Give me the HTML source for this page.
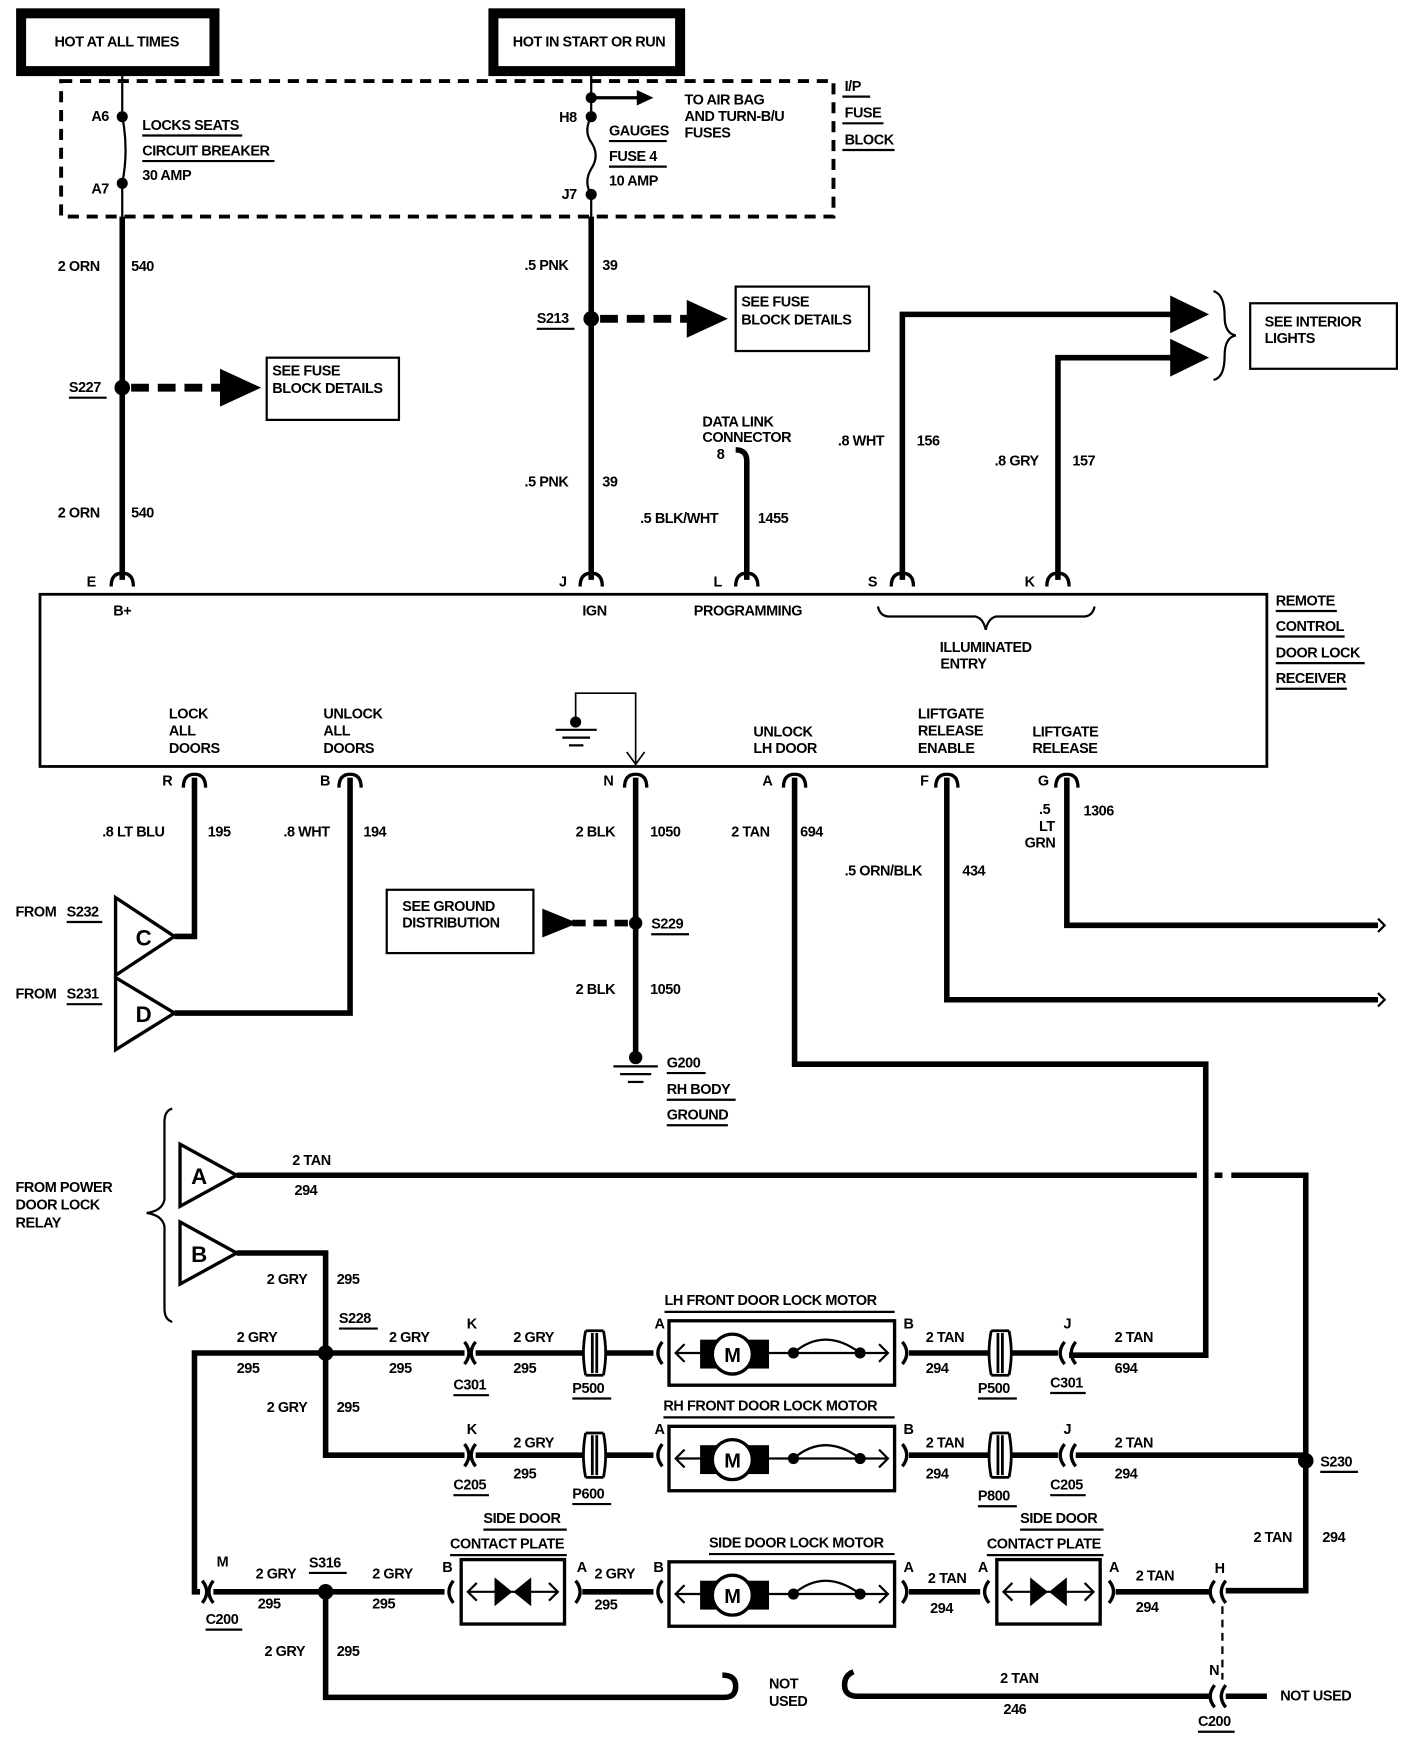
<!DOCTYPE html>
<html><head><meta charset="utf-8"><style>
html,body{margin:0;padding:0;background:#fff;}
svg{display:block;}
text{font-family:"Liberation Sans",sans-serif;font-weight:bold;font-size:13px;fill:#000;letter-spacing:-0.4px;}
</style></head><body>
<svg width="1408" height="1744" viewBox="0 0 1267 1570" preserveAspectRatio="none" xmlns="http://www.w3.org/2000/svg">
<defs>
<g id="motor">
<rect x="0" y="0" width="203" height="58" fill="none" stroke="#000" stroke-width="3"/>
<line x1="6" y1="29" x2="197" y2="29" stroke="#000" stroke-width="2"/>
<path d="M14 21 L6 29 L14 37 M189 21 L197 29 L189 37" fill="none" stroke="#000" stroke-width="2"/>
<rect x="28" y="17" width="62" height="26" fill="#000"/>
<circle cx="57" cy="30" r="18" fill="#fff" stroke="#000" stroke-width="3"/>
<path d="M112 29 Q140 5 172 29" fill="none" stroke="#000" stroke-width="2"/>
<circle cx="112" cy="29" r="5"/><circle cx="172" cy="29" r="5"/>
</g>
<g id="plate">
<rect x="0" y="0" width="93" height="58" fill="none" stroke="#000" stroke-width="3"/>
<line x1="6" y1="29" x2="87" y2="29" stroke="#000" stroke-width="2"/>
<path d="M14 21 L6 29 L14 37 M79 21 L87 29 L79 37" fill="none" stroke="#000" stroke-width="2"/>
<polygon points="30,16 30,42 46,29"/><polygon points="63,16 63,42 47,29"/>
</g>
<g id="pin"><path d="M-10 12 Q-10 0 0 0 Q10 0 10 12" fill="none" stroke="#000" stroke-width="3"/></g>
<g id="p5"><path d="M-8 0 Q-12 20 -8 40 M8 0 Q12 20 8 40 M-8 0 L8 0 M-8 40 L8 40 M-2 2 L-2 38 M2 2 L2 38" fill="none" stroke="#000" stroke-width="2.5"/></g>
</defs>

<rect x="19" y="12" width="174" height="52" fill="none" stroke="#000" stroke-width="9"/>
<text x="105" y="42" text-anchor="middle">HOT AT ALL TIMES</text>
<rect x="444" y="12" width="168" height="52" fill="none" stroke="#000" stroke-width="9"/>
<text x="530" y="42" text-anchor="middle">HOT IN START OR RUN</text>

<rect x="55" y="73" width="695" height="122" fill="none" stroke="#000" stroke-width="3.5" stroke-dasharray="10 7"/>
<line x1="110" y1="68" x2="110" y2="100" stroke="#000" stroke-width="2"/>
<path d="M110 105 Q116 135 110 165" fill="none" stroke="#000" stroke-width="2"/>
<line x1="110" y1="165" x2="110" y2="200" stroke="#000" stroke-width="2"/>
<circle cx="110" cy="105" r="5"/><circle cx="110" cy="165" r="5"/>
<text x="98" y="109" text-anchor="end">A6</text><text x="98" y="174" text-anchor="end">A7</text>
<text x="128" y="117">LOCKS SEATS</text><line x1="128" y1="122" x2="218" y2="122" stroke="#000" stroke-width="2"/>
<text x="128" y="140">CIRCUIT BREAKER</text><line x1="128" y1="145" x2="247" y2="145" stroke="#000" stroke-width="2"/>
<text x="128" y="162">30 AMP</text>

<line x1="532" y1="68" x2="532" y2="105" stroke="#000" stroke-width="2"/>
<path d="M532 105 Q525 118 532 128 Q540 140 532 152 Q525 164 532 175" fill="none" stroke="#000" stroke-width="2"/>
<line x1="532" y1="175" x2="532" y2="200" stroke="#000" stroke-width="2"/>
<circle cx="532" cy="88" r="5"/><circle cx="532" cy="105" r="5"/><circle cx="532" cy="175" r="5"/>
<line x1="532" y1="88" x2="575" y2="88" stroke="#000" stroke-width="3"/><polygon points="573,81 588,88 573,95"/>
<text x="519" y="110" text-anchor="end">H8</text><text x="519" y="179" text-anchor="end">J7</text>
<text x="548" y="122">GAUGES</text><line x1="548" y1="127" x2="600" y2="127" stroke="#000" stroke-width="2"/>
<text x="548" y="145">FUSE 4</text><line x1="548" y1="150" x2="600" y2="150" stroke="#000" stroke-width="2"/>
<text x="548" y="167">10 AMP</text>
<text x="616" y="94">TO AIR BAG</text><text x="616" y="109">AND TURN-B/U</text><text x="616" y="124">FUSES</text>
<text x="760" y="82">I/P</text><line x1="758" y1="87" x2="783" y2="87" stroke="#000" stroke-width="2"/>
<text x="760" y="106">FUSE</text><line x1="758" y1="111" x2="795" y2="111" stroke="#000" stroke-width="2"/>
<text x="760" y="130">BLOCK</text><line x1="758" y1="135" x2="805" y2="135" stroke="#000" stroke-width="2"/>

<line x1="110" y1="195" x2="110" y2="522" stroke="#000" stroke-width="5"/>
<text x="52" y="244">2 ORN</text><text x="118" y="244">540</text>
<circle cx="110" cy="349" r="7"/>
<line x1="118" y1="349" x2="200" y2="349" stroke="#000" stroke-width="7" stroke-dasharray="16 8"/>
<polygon points="198,332 235,349 198,366"/>
<text x="62" y="353">S227</text><line x1="62" y1="358" x2="96" y2="358" stroke="#000" stroke-width="2"/>
<rect x="240" y="322" width="119" height="56" fill="none" stroke="#000" stroke-width="2"/>
<text x="245" y="338">SEE FUSE</text><text x="245" y="354">BLOCK DETAILS</text>
<text x="52" y="466">2 ORN</text><text x="118" y="466">540</text>

<line x1="532" y1="195" x2="532" y2="522" stroke="#000" stroke-width="5"/>
<text x="472" y="243">.5 PNK</text><text x="542" y="243">39</text>
<circle cx="532" cy="287" r="7"/>
<line x1="540" y1="287" x2="620" y2="287" stroke="#000" stroke-width="7" stroke-dasharray="16 8"/>
<polygon points="618,270 655,287 618,304"/>
<text x="483" y="291">S213</text><line x1="483" y1="296" x2="517" y2="296" stroke="#000" stroke-width="2"/>
<rect x="662" y="258" width="120" height="58" fill="none" stroke="#000" stroke-width="2"/>
<text x="667" y="276">SEE FUSE</text><text x="667" y="292">BLOCK DETAILS</text>
<text x="472" y="438">.5 PNK</text><text x="542" y="438">39</text>

<path d="M672 522 L672 415 Q672 405 662 405" fill="none" stroke="#000" stroke-width="5"/>
<text x="632" y="384">DATA LINK</text><text x="632" y="398">CONNECTOR</text><text x="645" y="413">8</text>
<text x="576" y="471">.5 BLK/WHT</text><text x="682" y="471">1455</text>

<path d="M812 522 L812 283 L1058 283" fill="none" stroke="#000" stroke-width="5"/>
<polygon points="1053,266 1088,283 1053,300"/>
<path d="M952 522 L952 322 L1058 322" fill="none" stroke="#000" stroke-width="5"/>
<polygon points="1053,305 1088,322 1053,339"/>
<text x="754" y="401">.8 WHT</text><text x="825" y="401">156</text>
<text x="895" y="419">.8 GRY</text><text x="965" y="419">157</text>
<path d="M1092 262 Q1102 265 1102 285 Q1102 300 1112 302 Q1102 304 1102 320 Q1102 340 1092 342" fill="none" stroke="#000" stroke-width="2"/>
<rect x="1125" y="273" width="132" height="59" fill="none" stroke="#000" stroke-width="2"/>
<text x="1138" y="294">SEE INTERIOR</text><text x="1138" y="309">LIGHTS</text>

<rect x="36" y="535" width="1104" height="155" fill="none" stroke="#000" stroke-width="2.5"/>
<use href="#pin" x="110" y="516"/><use href="#pin" x="532" y="516"/><use href="#pin" x="672" y="516"/><use href="#pin" x="812" y="516"/><use href="#pin" x="952" y="516"/>
<text x="78" y="528">E</text><text x="503" y="528">J</text><text x="642" y="528">L</text><text x="781" y="528">S</text><text x="922" y="528">K</text>
<text x="110" y="554" text-anchor="middle">B+</text><text x="535" y="554" text-anchor="middle">IGN</text><text x="673" y="554" text-anchor="middle">PROGRAMMING</text>
<path d="M790 546 Q792 555 800 555 L878 555 Q885 557 887 567 Q889 557 896 555 L975 555 Q983 555 985 546" fill="none" stroke="#000" stroke-width="2"/>
<text x="887" y="587" text-anchor="middle">ILLUMINATED</text><text x="867" y="602" text-anchor="middle">ENTRY</text>
<text x="1148" y="545">REMOTE</text><line x1="1148" y1="550" x2="1203" y2="550" stroke="#000" stroke-width="2"/>
<text x="1148" y="568">CONTROL</text><line x1="1148" y1="573" x2="1210" y2="573" stroke="#000" stroke-width="2"/>
<text x="1148" y="592">DOOR LOCK</text><line x1="1148" y1="597" x2="1228" y2="597" stroke="#000" stroke-width="2"/>
<text x="1148" y="615">RECEIVER</text><line x1="1148" y1="620" x2="1212" y2="620" stroke="#000" stroke-width="2"/>

<text x="152" y="647">LOCK</text><text x="152" y="662">ALL</text><text x="152" y="678">DOORS</text>
<text x="291" y="647">UNLOCK</text><text x="291" y="662">ALL</text><text x="291" y="678">DOORS</text>
<path d="M518 650 L518 624 L572 624 L572 690" fill="none" stroke="#000" stroke-width="1.5"/>
<path d="M564 677 L572 688 L580 677" fill="none" stroke="#000" stroke-width="1.5"/>
<circle cx="518" cy="650" r="5"/>
<line x1="500" y1="657" x2="537" y2="657" stroke="#000" stroke-width="2"/><line x1="506" y1="664" x2="531" y2="664" stroke="#000" stroke-width="2"/><line x1="512" y1="671" x2="525" y2="671" stroke="#000" stroke-width="2"/>
<text x="678" y="663">UNLOCK</text><text x="678" y="678">LH DOOR</text>
<text x="826" y="647">LIFTGATE</text><text x="826" y="662">RELEASE</text><text x="826" y="678">ENABLE</text>
<text x="929" y="663">LIFTGATE</text><text x="929" y="678">RELEASE</text>

<use href="#pin" x="175" y="697"/><use href="#pin" x="315" y="697"/><use href="#pin" x="572" y="697"/><use href="#pin" x="715" y="697"/><use href="#pin" x="852" y="697"/><use href="#pin" x="960" y="697"/>
<text x="146" y="707">R</text><text x="288" y="707">B</text><text x="543" y="707">N</text><text x="686" y="707">A</text><text x="828" y="707">F</text><text x="934" y="707">G</text>

<path d="M175 700 L175 843 L157 843" fill="none" stroke="#000" stroke-width="5"/>
<text x="92" y="753">.8 LT BLU</text><text x="187" y="753">195</text>
<path d="M315 700 L315 912 L157 912" fill="none" stroke="#000" stroke-width="5"/>
<text x="255" y="753">.8 WHT</text><text x="327" y="753">194</text>
<polygon points="104,808 104,878 157,843" fill="#fff" stroke="#000" stroke-width="3"/>
<text x="122" y="851" style="font-size:20px">C</text>
<polygon points="104,880 104,945 157,912" fill="#fff" stroke="#000" stroke-width="3"/>
<text x="122" y="920" style="font-size:20px">D</text>
<text x="14" y="825">FROM</text><text x="60" y="825">S232</text><line x1="60" y1="830" x2="92" y2="830" stroke="#000" stroke-width="2"/>
<text x="14" y="899">FROM</text><text x="60" y="899">S231</text><line x1="60" y1="904" x2="92" y2="904" stroke="#000" stroke-width="2"/>

<line x1="572" y1="700" x2="572" y2="952" stroke="#000" stroke-width="5"/>
<text x="518" y="753">2 BLK</text><text x="585" y="753">1050</text>
<circle cx="572" cy="831" r="6"/>
<line x1="565" y1="831" x2="515" y2="831" stroke="#000" stroke-width="6" stroke-dasharray="12 7"/>
<polygon points="520,818 488,831 520,844" transform="rotate(180 504 831)"/>
<text x="586" y="836">S229</text><line x1="586" y1="841" x2="620" y2="841" stroke="#000" stroke-width="2"/>
<rect x="348" y="801" width="132" height="57" fill="none" stroke="#000" stroke-width="2"/>
<text x="362" y="820">SEE GROUND</text><text x="362" y="835">DISTRIBUTION</text>
<text x="518" y="895">2 BLK</text><text x="585" y="895">1050</text>
<circle cx="572" cy="952" r="6"/>
<line x1="552" y1="960" x2="592" y2="960" stroke="#000" stroke-width="2"/><line x1="558" y1="967" x2="586" y2="967" stroke="#000" stroke-width="2"/><line x1="565" y1="974" x2="579" y2="974" stroke="#000" stroke-width="2"/>
<text x="600" y="961">G200</text><line x1="600" y1="966" x2="635" y2="966" stroke="#000" stroke-width="2"/>
<text x="600" y="985">RH BODY</text><line x1="600" y1="990" x2="662" y2="990" stroke="#000" stroke-width="2"/>
<text x="600" y="1008">GROUND</text><line x1="600" y1="1013" x2="655" y2="1013" stroke="#000" stroke-width="2"/>

<path d="M715 700 L715 958 L1085 958 L1085 1220 L962 1220" fill="none" stroke="#000" stroke-width="5"/>
<text x="658" y="753">2 TAN</text><text x="720" y="753">694</text>
<path d="M852 700 L852 900 L1240 900" fill="none" stroke="#000" stroke-width="5"/>
<path d="M1240 894 L1246 900 L1240 906" fill="none" stroke="#000" stroke-width="2"/>
<text x="760" y="788">.5 ORN/BLK</text><text x="866" y="788">434</text>
<path d="M960 700 L960 833 L1240 833" fill="none" stroke="#000" stroke-width="5"/>
<path d="M1240 827 L1246 833 L1240 839" fill="none" stroke="#000" stroke-width="2"/>
<text x="935" y="733">.5</text><text x="935" y="748">LT</text><text x="922" y="763">GRN</text><text x="975" y="734">1306</text>

<path d="M155 998 Q148 1000 148 1010 L148 1080 Q146 1090 132 1092 Q146 1094 148 1104 L148 1178 Q148 1188 155 1190" fill="none" stroke="#000" stroke-width="2"/>
<text x="14" y="1073">FROM POWER</text><text x="14" y="1089">DOOR LOCK</text><text x="14" y="1105">RELAY</text>
<polygon points="162,1030 162,1086 213,1058" fill="#fff" stroke="#000" stroke-width="3"/>
<text x="172" y="1066" style="font-size:20px">A</text>
<polygon points="162,1100 162,1156 213,1128" fill="#fff" stroke="#000" stroke-width="3"/>
<text x="172" y="1136" style="font-size:20px">B</text>
<line x1="213" y1="1058" x2="1077" y2="1058" stroke="#000" stroke-width="5"/>
<line x1="1093" y1="1058" x2="1100" y2="1058" stroke="#000" stroke-width="5"/>
<path d="M1108 1058 L1175 1058 L1175 1432 L1103 1432" fill="none" stroke="#000" stroke-width="5"/>
<text x="263" y="1049">2 TAN</text><text x="265" y="1076">294</text>
<path d="M213 1128 L293 1128 L293 1310 L418 1310" fill="none" stroke="#000" stroke-width="5"/>
<text x="240" y="1156">2 GRY</text><text x="303" y="1156">295</text>
<text x="305" y="1191">S228</text><line x1="305" y1="1196" x2="340" y2="1196" stroke="#000" stroke-width="2"/>

<path d="M418 1218 L175 1218 L175 1433 L180 1433" fill="none" stroke="#000" stroke-width="5"/>
<circle cx="293" cy="1218" r="7"/>
<text x="213" y="1208">2 GRY</text><text x="213" y="1236">295</text>
<text x="350" y="1208">2 GRY</text><text x="350" y="1236">295</text>
<path d="M418 1208 Q426 1218 418 1228 M428 1208 Q420 1218 428 1228" fill="none" stroke="#000" stroke-width="3"/>
<text x="420" y="1196">K</text><text x="408" y="1251">C301</text><line x1="408" y1="1256" x2="440" y2="1256" stroke="#000" stroke-width="2"/>
<line x1="428" y1="1218" x2="525" y2="1218" stroke="#000" stroke-width="5"/>
<text x="462" y="1208">2 GRY</text><text x="462" y="1236">295</text>
<use href="#p5" x="535" y="1198"/><text x="515" y="1254">P500</text><line x1="515" y1="1259" x2="550" y2="1259" stroke="#000" stroke-width="2"/>
<line x1="545" y1="1218" x2="588" y2="1218" stroke="#000" stroke-width="5"/>
<path d="M596 1208 Q588 1218 596 1228" fill="none" stroke="#000" stroke-width="3"/>
<text x="589" y="1196">A</text>
<text x="598" y="1175">LH FRONT DOOR LOCK MOTOR</text><line x1="598" y1="1181" x2="805" y2="1181" stroke="#000" stroke-width="2"/>
<use href="#motor" x="602" y="1189"/>
<text x="659" y="1226" text-anchor="middle" style="font-size:18px">M</text>
<text x="813" y="1196">B</text>
<path d="M812 1208 Q820 1218 812 1228" fill="none" stroke="#000" stroke-width="3"/>
<line x1="818" y1="1218" x2="890" y2="1218" stroke="#000" stroke-width="5"/>
<text x="833" y="1208">2 TAN</text><text x="833" y="1236">294</text>
<use href="#p5" x="900" y="1198"/><text x="880" y="1254">P500</text><line x1="880" y1="1259" x2="915" y2="1259" stroke="#000" stroke-width="2"/>
<line x1="910" y1="1218" x2="952" y2="1218" stroke="#000" stroke-width="5"/>
<path d="M958 1208 Q950 1218 958 1228 M968 1208 Q960 1218 968 1228" fill="none" stroke="#000" stroke-width="3"/>
<text x="957" y="1196">J</text><text x="945" y="1249">C301</text><line x1="945" y1="1254" x2="977" y2="1254" stroke="#000" stroke-width="2"/>
<text x="1003" y="1208">2 TAN</text><text x="1003" y="1236">694</text>

<text x="240" y="1271">2 GRY</text><text x="303" y="1271">295</text>
<path d="M418 1300 Q426 1310 418 1320 M428 1300 Q420 1310 428 1320" fill="none" stroke="#000" stroke-width="3"/>
<text x="420" y="1291">K</text><text x="408" y="1341">C205</text><line x1="408" y1="1346" x2="440" y2="1346" stroke="#000" stroke-width="2"/>
<line x1="428" y1="1310" x2="525" y2="1310" stroke="#000" stroke-width="5"/>
<text x="462" y="1303">2 GRY</text><text x="462" y="1331">295</text>
<use href="#p5" x="535" y="1290"/><text x="515" y="1349">P600</text><line x1="515" y1="1354" x2="550" y2="1354" stroke="#000" stroke-width="2"/>
<line x1="545" y1="1310" x2="588" y2="1310" stroke="#000" stroke-width="5"/>
<path d="M596 1300 Q588 1310 596 1320" fill="none" stroke="#000" stroke-width="3"/>
<text x="589" y="1291">A</text>
<text x="597" y="1270">RH FRONT DOOR LOCK MOTOR</text><line x1="597" y1="1276" x2="805" y2="1276" stroke="#000" stroke-width="2"/>
<use href="#motor" x="602" y="1284"/>
<text x="659" y="1321" text-anchor="middle" style="font-size:18px">M</text>
<text x="813" y="1291">B</text>
<path d="M812 1300 Q820 1310 812 1320" fill="none" stroke="#000" stroke-width="3"/>
<line x1="818" y1="1310" x2="890" y2="1310" stroke="#000" stroke-width="5"/>
<text x="833" y="1303">2 TAN</text><text x="833" y="1331">294</text>
<use href="#p5" x="900" y="1290"/><text x="880" y="1351">P800</text><line x1="880" y1="1356" x2="915" y2="1356" stroke="#000" stroke-width="2"/>
<line x1="910" y1="1310" x2="952" y2="1310" stroke="#000" stroke-width="5"/>
<path d="M958 1300 Q950 1310 958 1320 M968 1300 Q960 1310 968 1320" fill="none" stroke="#000" stroke-width="3"/>
<line x1="968" y1="1310" x2="1175" y2="1310" stroke="#000" stroke-width="5"/>
<text x="957" y="1291">J</text><text x="945" y="1341">C205</text><line x1="945" y1="1346" x2="977" y2="1346" stroke="#000" stroke-width="2"/>
<text x="1003" y="1303">2 TAN</text><text x="1003" y="1331">294</text>
<circle cx="1175" cy="1315" r="7"/>
<text x="1188" y="1320">S230</text><line x1="1188" y1="1325" x2="1222" y2="1325" stroke="#000" stroke-width="2"/>
<text x="1128" y="1388">2 TAN</text><text x="1190" y="1388">294</text>

<path d="M182 1423 Q190 1433 182 1443 M192 1423 Q184 1433 192 1443" fill="none" stroke="#000" stroke-width="3"/>
<text x="195" y="1410">M</text><text x="185" y="1462">C200</text><line x1="185" y1="1467" x2="218" y2="1467" stroke="#000" stroke-width="2"/>
<line x1="192" y1="1433" x2="400" y2="1433" stroke="#000" stroke-width="5"/>
<text x="230" y="1421">2 GRY</text><text x="232" y="1448">295</text>
<text x="278" y="1411">S316</text><line x1="278" y1="1416" x2="312" y2="1416" stroke="#000" stroke-width="2"/>
<circle cx="293" cy="1433" r="7"/>
<text x="335" y="1421">2 GRY</text><text x="335" y="1448">295</text>
<path d="M408 1423 Q400 1433 408 1443" fill="none" stroke="#000" stroke-width="3"/>
<text x="398" y="1415">B</text>
<use href="#plate" x="415" y="1404"/>
<text x="435" y="1371">SIDE DOOR</text><line x1="435" y1="1377" x2="510" y2="1377" stroke="#000" stroke-width="2"/>
<text x="405" y="1394">CONTACT PLATE</text><line x1="405" y1="1400" x2="510" y2="1400" stroke="#000" stroke-width="2"/>
<text x="519" y="1415">A</text>
<path d="M518 1423 Q526 1433 518 1443" fill="none" stroke="#000" stroke-width="3"/>
<line x1="524" y1="1433" x2="588" y2="1433" stroke="#000" stroke-width="5"/>
<text x="535" y="1421">2 GRY</text><text x="535" y="1449">295</text>
<path d="M596 1423 Q588 1433 596 1443" fill="none" stroke="#000" stroke-width="3"/>
<text x="588" y="1415">B</text>
<text x="638" y="1393">SIDE DOOR LOCK MOTOR</text><line x1="638" y1="1399" x2="805" y2="1399" stroke="#000" stroke-width="2"/>
<use href="#motor" x="602" y="1406"/>
<text x="659" y="1443" text-anchor="middle" style="font-size:18px">M</text>
<text x="813" y="1415">A</text>
<path d="M812 1423 Q820 1433 812 1443" fill="none" stroke="#000" stroke-width="3"/>
<line x1="818" y1="1433" x2="882" y2="1433" stroke="#000" stroke-width="5"/>
<text x="835" y="1425">2 TAN</text><text x="837" y="1452">294</text>
<path d="M890 1423 Q882 1433 890 1443" fill="none" stroke="#000" stroke-width="3"/>
<text x="880" y="1415">A</text>
<use href="#plate" x="897" y="1404"/>
<text x="918" y="1371">SIDE DOOR</text><line x1="918" y1="1377" x2="993" y2="1377" stroke="#000" stroke-width="2"/>
<text x="888" y="1394">CONTACT PLATE</text><line x1="888" y1="1400" x2="993" y2="1400" stroke="#000" stroke-width="2"/>
<text x="998" y="1415">A</text>
<path d="M998 1423 Q1006 1433 998 1443" fill="none" stroke="#000" stroke-width="3"/>
<line x1="1004" y1="1433" x2="1088" y2="1433" stroke="#000" stroke-width="5"/>
<text x="1022" y="1423">2 TAN</text><text x="1022" y="1451">294</text>
<path d="M1093 1423 Q1085 1433 1093 1443 M1103 1423 Q1095 1433 1103 1443" fill="none" stroke="#000" stroke-width="3"/>
<text x="1093" y="1416">H</text>
<line x1="1100" y1="1446" x2="1100" y2="1512" stroke="#000" stroke-width="2" stroke-dasharray="7 5"/>
<text x="1088" y="1508">N</text>
<path d="M1093 1517 Q1085 1527 1093 1537 M1103 1517 Q1095 1527 1103 1537" fill="none" stroke="#000" stroke-width="3"/>
<line x1="1103" y1="1527" x2="1140" y2="1527" stroke="#000" stroke-width="5"/>
<text x="1152" y="1531">NOT USED</text>
<text x="1078" y="1554">C200</text><line x1="1078" y1="1559" x2="1111" y2="1559" stroke="#000" stroke-width="2"/>

<path d="M293 1433 L293 1528 L652 1528 Q662 1528 662 1518 Q662 1508 650 1508" fill="none" stroke="#000" stroke-width="5"/>
<text x="238" y="1491">2 GRY</text><text x="303" y="1491">295</text>
<text x="692" y="1520">NOT</text><text x="692" y="1536">USED</text>
<path d="M1088 1527 L772 1527 Q760 1527 760 1517 Q760 1508 768 1505" fill="none" stroke="#000" stroke-width="5"/>
<text x="900" y="1515">2 TAN</text><text x="903" y="1543">246</text>
</svg>
</body></html>
